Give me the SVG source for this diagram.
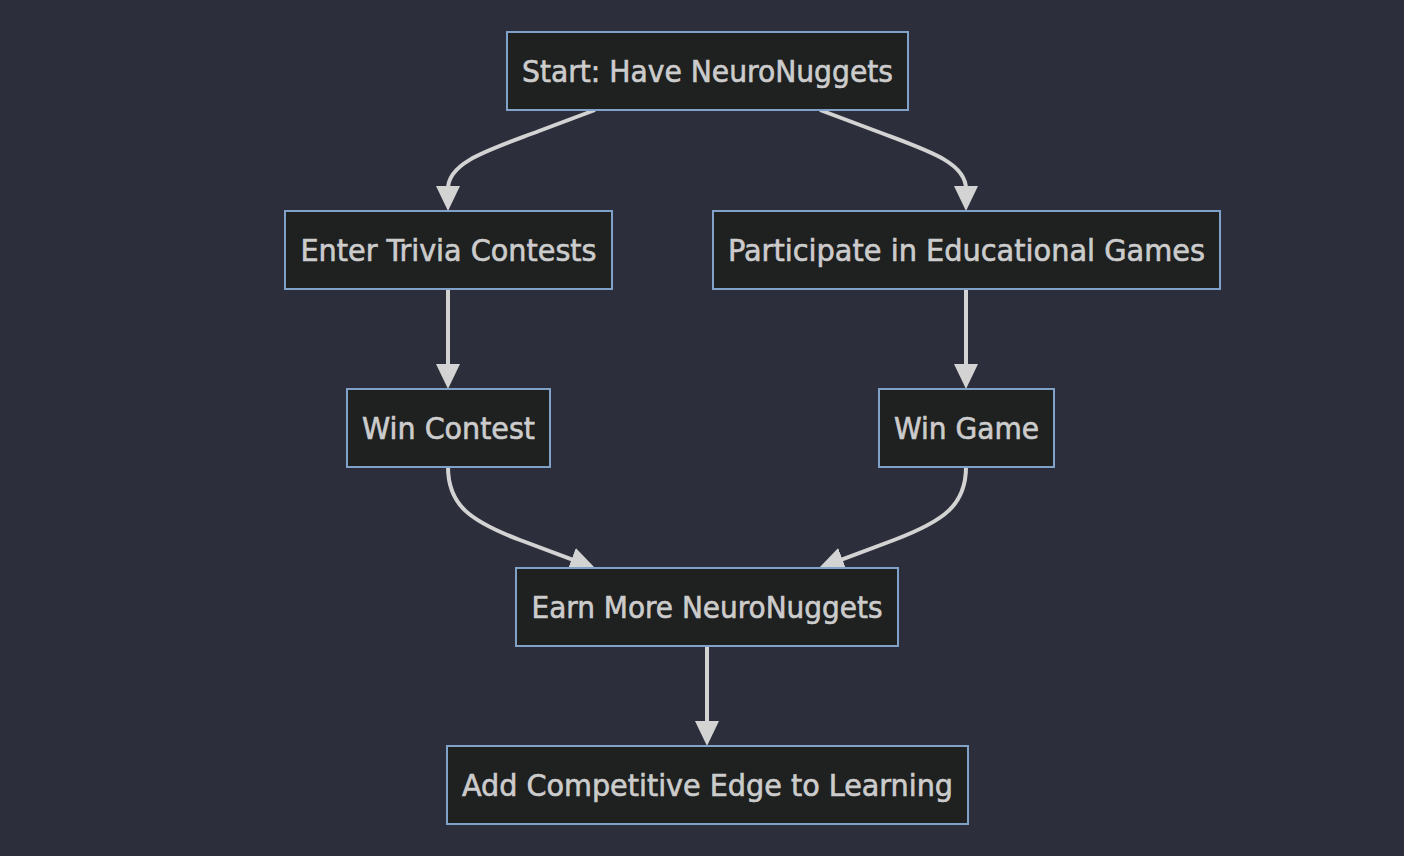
<svg xmlns="http://www.w3.org/2000/svg" width="1404" height="856" viewBox="0 0 1404 856">
<defs>
<style>
.node rect{fill:#1f2020;stroke:#81a2c8;stroke-width:2}
.node text{fill:#cccccc;stroke:#cccccc;stroke-width:0.6;font-family:"DejaVu Sans Condensed","DejaVu Sans",sans-serif;font-size:31px;text-anchor:middle}
.edge{fill:none;stroke:#d3d3d3;stroke-width:4}
</style>
<marker id="arr" markerUnits="userSpaceOnUse" markerWidth="25" markerHeight="24" refX="3" refY="12" orient="auto" viewBox="0 0 25 24">
<path d="M0,0 L25,12 L0,24 z" fill="#d3d3d3"/>
</marker>
</defs>
<rect x="0" y="0" width="1404" height="856" fill="#2c2f3b"/>
<g id="connectors">
<path class="edge" marker-end="url(#arr)" d="M595,110 L539,131 C489,150 448,162 448,189"/>
<path class="edge" marker-end="url(#arr)" d="M820,110 L876,131 C926,150 966,162 966,189"/>
<path class="edge" marker-end="url(#arr)" d="M448,289 L448,367"/>
<path class="edge" marker-end="url(#arr)" d="M966,289 L966,367"/>
<path class="edge" marker-end="url(#arr)" d="M448,467 C448,505 470,521 520,540 L574.4,560.3"/>
<path class="edge" marker-end="url(#arr)" d="M966,467 C966,505 944,521 894,540 L839.6,560.3"/>
<path class="edge" marker-end="url(#arr)" d="M707,646 L707,724"/>
</g>
<g id="start" class="node"><rect x="507" y="32" width="401" height="78"/><text x="707.5" y="82" textLength="371" lengthAdjust="spacingAndGlyphs">Start: Have NeuroNuggets</text></g>
<g id="trivia" class="node"><rect x="285" y="211" width="327" height="78"/><text x="448.5" y="261" textLength="296" lengthAdjust="spacingAndGlyphs">Enter Trivia Contests</text></g>
<g id="games" class="node"><rect x="713" y="211" width="507" height="78"/><text x="966.5" y="261" textLength="477" lengthAdjust="spacingAndGlyphs">Participate in Educational Games</text></g>
<g id="wincontest" class="node"><rect x="347" y="389" width="203" height="78"/><text x="448.5" y="439" textLength="173" lengthAdjust="spacingAndGlyphs">Win Contest</text></g>
<g id="wingame" class="node"><rect x="879" y="389" width="175" height="78"/><text x="966.5" y="439" textLength="145" lengthAdjust="spacingAndGlyphs">Win Game</text></g>
<g id="earn" class="node"><rect x="516" y="568" width="382" height="78"/><text x="707" y="618" textLength="351" lengthAdjust="spacingAndGlyphs">Earn More NeuroNuggets</text></g>
<g id="edge" class="node"><rect x="447" y="746" width="521" height="78"/><text x="707.5" y="796" textLength="491" lengthAdjust="spacingAndGlyphs">Add Competitive Edge to Learning</text></g>
</svg>
